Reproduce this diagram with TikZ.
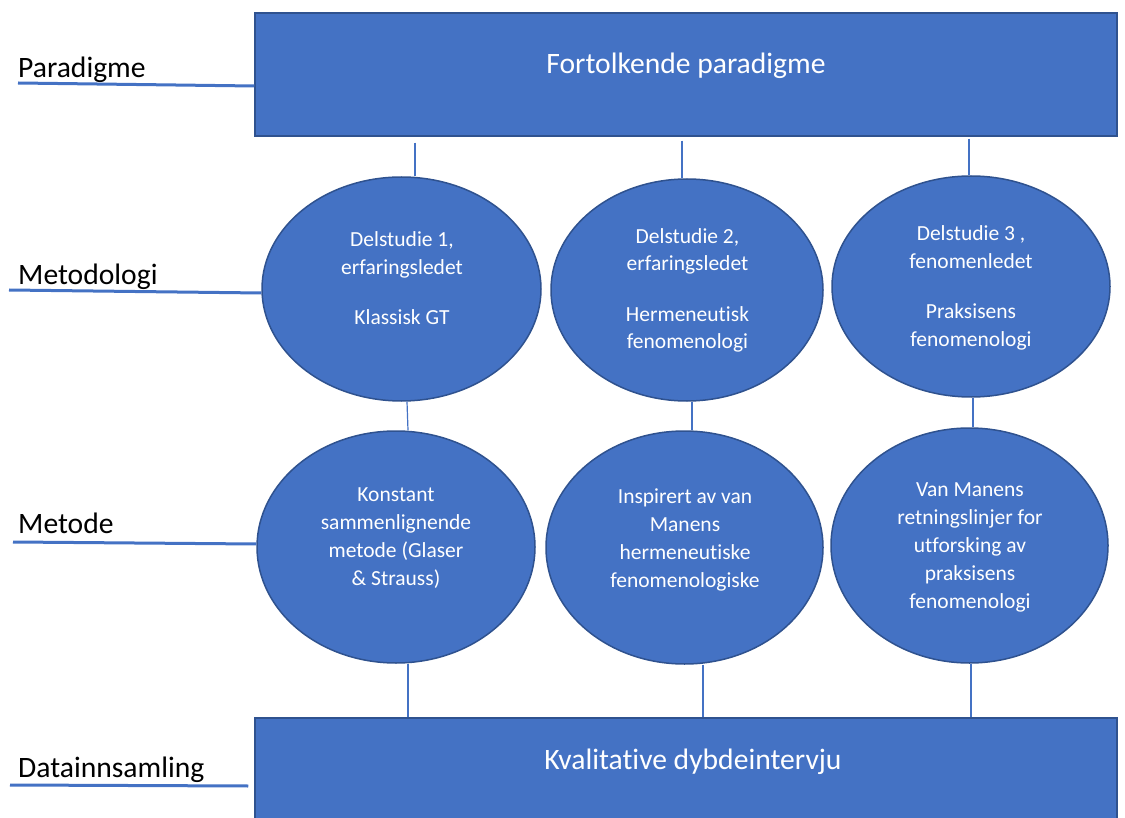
\documentclass[tikz,border=0pt]{standalone}
\usepackage{fontspec}
\setmainfont{Carlito}[Ligatures=NoCommon]
\usepackage{tikz}
\usetikzlibrary{shapes.geometric}
\definecolor{boxblue}{HTML}{4472C4}
\definecolor{edgeblue}{HTML}{2F528F}
\tikzstyle{bigbox}=[rectangle, draw=edgeblue, line width=1.5pt, fill=boxblue, text=white,
        minimum width=862pt, inner sep=0pt, font=\fontsize{29.6}{35}\selectfont]
\tikzstyle{bubble}=[ellipse, draw=edgeblue, line width=1.5pt, fill=boxblue, inner sep=0pt]
\tikzstyle{btext}=[text=white, align=center, anchor=base, inner sep=0pt, font=\fontsize{21.5}{28}\selectfont]
\tikzstyle{tier}=[anchor=base west, inner sep=0pt, font=\fontsize{29.6}{35}\selectfont]
\tikzstyle{tierline}=[draw=boxblue, line width=3pt]
\tikzstyle{joint}=[draw=boxblue, line width=1.2pt]
\begin{document}
\begin{tikzpicture}[x=1pt, y=-1pt]
\useasboundingbox (0,0) rectangle (1125,818);
\node [bigbox, minimum height=123pt, text height=12pt, text depth=13pt] (top) at (686,74.5) {Fortolkende paradigme};
\node [bigbox, minimum height=107pt, text height=10pt, text depth=15pt] (bot) at (686,771.5) {\hspace*{14pt}Kvalitative dybdeintervju};
\node [bubble, minimum width=279pt, minimum height=224pt] (e1) at (401.5,289) {};
\node [bubble, minimum width=272pt, minimum height=222pt] (e2) at (687,290) {};
\node [bubble, minimum width=278pt, minimum height=221pt] (e3) at (971,286.5) {};
\node [bubble, minimum width=278pt, minimum height=232pt] (e4) at (396,547) {};
\node [bubble, minimum width=277pt, minimum height=233pt] (e5) at (684.5,547.5) {};
\node [bubble, minimum width=277pt, minimum height=235pt] (e6) at (969.5,545.5) {};
% text sits on the baseline of its last line
\node [btext] (t1) at (402,325) {Delstudie 1,\\ erfaringsledet\\[22pt] Klassisk GT};
\node [btext] (t2) at (687.5,349) {Delstudie 2,\\ erfaringsledet\\[22pt] Hermeneutisk\\ fenomenologi};
\node [btext] (t3) at (971,347) {Delstudie 3 ,\\ fenomenledet\\[22pt] Praksisens\\ fenomenologi};
\node [btext] (t4) at (396,585) {Konstant\\ sammenlignende\\ metode (Glaser\\ \& Strauss)};
\node [btext] (t5) at (685,587) {Inspirert av van\\ Manens\\ hermeneutiske\\ fenomenologiske};
\node [btext] (t6) at (970,608) {Van Manens\\ retningslinjer for\\ utforsking av\\ praksisens\\ fenomenologi};
\node [tier] (lpar) at (18,78) {Paradigme};
\node [tier] (lmet) at (18,285) {Metodologi};
\node [tier] (lmeth) at (18,533) {Metode};
\node [tier] (ldat) at (18,777) {Datainnsamling};
% level lines
\draw [tierline] ([yshift=-5pt]lpar.base west) -- ([yshift=-11.5pt]top.west);
\draw [tierline] ([xshift=-9pt,yshift=-5pt]lmet.base west) -- ([yshift=-4pt]e1.west);
\draw [tierline] ([xshift=-5pt,yshift=-9pt]lmeth.base west) -- ([yshift=3pt]e4.west);
\draw [tierline] ([xshift=-8pt,yshift=-8pt]ldat.base west) -- ([xshift=-6pt,yshift=-14.5pt]bot.west);
% connectors
\draw [joint, shorten <=6pt] (top.south -| 415,0) -- (e1.north -| 415,0);
\draw [joint, shorten <=4pt] (top.south -| 682,0) -- (e2.north -| 682,0);
\draw [joint, shorten <=2pt] (top.south -| 969,0) -- (e3.north -| 969,0);
\draw [joint] (e1.south -| 407,0) -- (e4.north -| 408,0);
\draw [joint] (e2.south -| 692,0) -- (e5.north -| 692,0);
\draw [joint] (e3.south -| 973,0) -- (e6.north -| 973,0);
\draw [joint] (e4.south -| 408,0) -- (bot.north -| 408,0);
\draw [joint] (e5.south -| 703,0) -- (bot.north -| 703,0);
\draw [joint] (e6.south -| 971,0) -- (bot.north -| 971,0);
\end{tikzpicture}
\end{document}
